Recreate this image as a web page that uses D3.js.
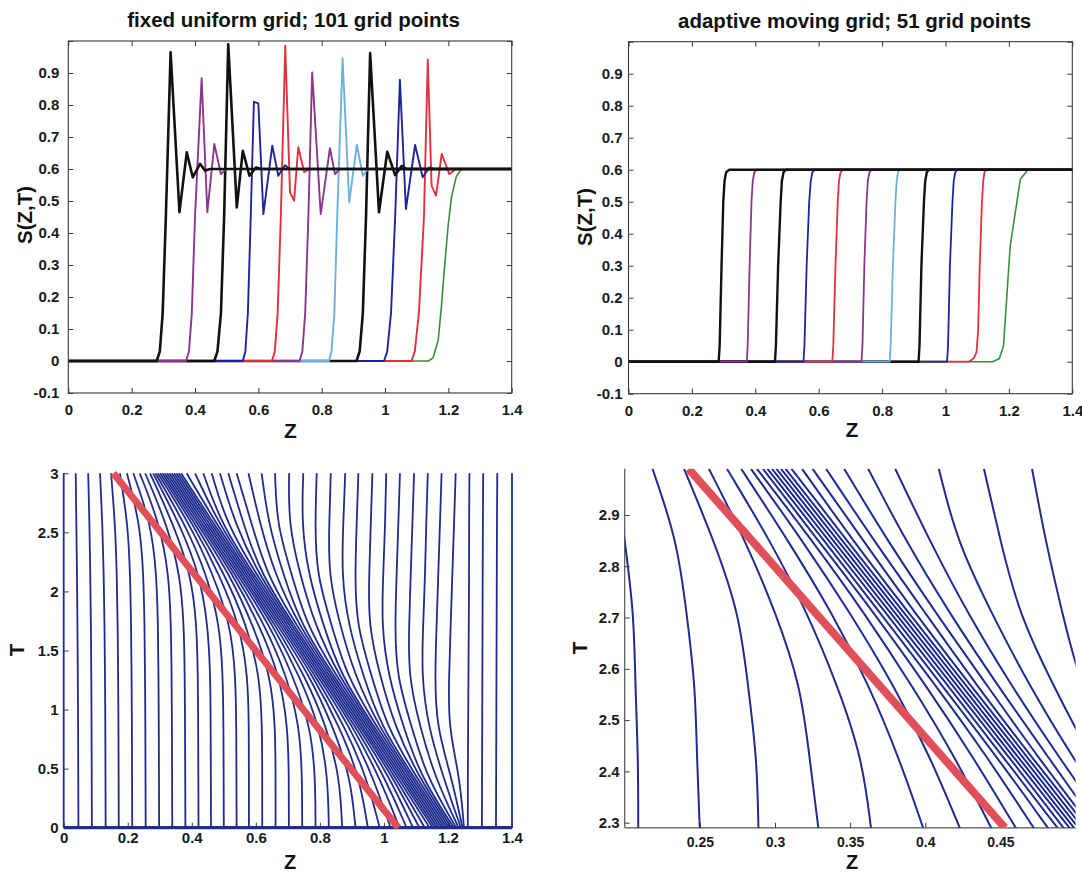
<!DOCTYPE html>
<html><head><meta charset="utf-8">
<script src="https://cdn.jsdelivr.net/npm/d3@7"></script>
<style>
body{margin:0;background:#fff}
svg text{font-family:"Liberation Sans",Arial,Helvetica,sans-serif}
</style>
</head><body>
<svg id="c" width="1082" height="875"></svg>
<script>
// ---------- tick labels ----------
const zTicks = [0,0.2,0.4,0.6,0.8,1,1.2,1.4];
const sTicks = [-0.1,0,0.1,0.2,0.3,0.4,0.5,0.6,0.7,0.8,0.9,1.0];
const sLabels = [-0.1,0,0.1,0.2,0.3,0.4,0.5,0.6,0.7,0.8,0.9];
const tTicksBL = [0,0.5,1,1.5,2,2.5,3];
const zTicksBR = [0.25,0.3,0.35,0.4,0.45];
const tTicksBR = [2.3,2.4,2.5,2.6,2.7,2.8,2.9];

// ---------- top-left: fixed uniform grid, S(Z,T) profiles [Z,S] ----------
const tlBlack1 = [[0,0],[0.279,0],[0.289,0.03],[0.298,0.15],[0.308,0.45],[0.323,0.965],[0.351,0.465],[0.374,0.652],[0.393,0.574],[0.416,0.616],[0.432,0.595],[0.448,0.6],[1.4,0.6]];
const tlPurple1 = [[0,0],[0.372,0],[0.381,0.03],[0.39,0.15],[0.4,0.45],[0.421,0.884],[0.439,0.465],[0.461,0.678],[0.482,0.584],[0.498,0.6],[1.4,0.6]];
const tlBlack2 = [[0,0],[0.461,0],[0.471,0.03],[0.482,0.15],[0.492,0.45],[0.505,0.99],[0.532,0.48],[0.551,0.657],[0.572,0.579],[0.593,0.605],[0.608,0.6],[1.4,0.6]];
const tlBlue1 = [[0,0],[0.551,0],[0.559,0.03],[0.567,0.15],[0.576,0.45],[0.586,0.81],[0.6,0.805],[0.616,0.459],[0.644,0.673],[0.663,0.579],[0.684,0.612],[0.7,0.6],[1.4,0.6]];
const tlRed1 = [[0,0],[0.643,0],[0.652,0.03],[0.661,0.15],[0.671,0.45],[0.685,0.985],[0.7,0.527],[0.713,0.501],[0.726,0.668],[0.745,0.59],[0.761,0.6],[1.4,0.6]];
const tlPurple2 = [[0,0],[0.73,0],[0.739,0.03],[0.748,0.15],[0.758,0.45],[0.77,0.902],[0.797,0.459],[0.826,0.665],[0.842,0.584],[0.858,0.6],[1.4,0.6]];
const tlLBlue = [[0,0],[0.823,0],[0.831,0.03],[0.84,0.15],[0.849,0.45],[0.866,0.946],[0.887,0.496],[0.911,0.675],[0.93,0.579],[0.946,0.6],[1.4,0.6]];
const tlBlack3 = [[0,0],[0.91,0],[0.92,0.03],[0.93,0.15],[0.94,0.45],[0.953,0.962],[0.981,0.465],[1.007,0.654],[1.032,0.581],[1.053,0.61],[1.068,0.6],[1.4,0.6]];
const tlBlue2 = [[0,0],[0.997,0],[1.007,0.03],[1.019,0.15],[1.032,0.45],[1.047,0.879],[1.066,0.475],[1.095,0.675],[1.119,0.574],[1.14,0.605],[1.155,0.6],[1.4,0.6]];
const tlRed2 = [[0,0],[1.084,0],[1.094,0.03],[1.107,0.15],[1.123,0.45],[1.135,0.942],[1.147,0.548],[1.161,0.517],[1.179,0.647],[1.203,0.584],[1.224,0.6],[1.4,0.6]];
const tlGreen = [[0,0],[1.137,0],[1.152,0.01],[1.168,0.066],[1.178,0.17],[1.188,0.295],[1.199,0.42],[1.21,0.513],[1.225,0.576],[1.241,0.6],[1.4,0.6]];

// ---------- top-right: adaptive moving grid, S(Z,T) profiles [Z,S] ----------
const trBlack1 = [[0,0],[0.2845,0],[0.2875,0.05],[0.2935,0.3],[0.299,0.5],[0.303,0.565],[0.308,0.592],[0.318,0.6],[1.4,0.6]];
const trPurple1 = [[0,0],[0.373,0],[0.376,0.05],[0.382,0.3],[0.388,0.5],[0.392,0.565],[0.397,0.592],[0.406,0.6],[1.4,0.6]];
const trBlack2 = [[0,0],[0.462,0],[0.465,0.05],[0.472,0.3],[0.48,0.5],[0.484,0.565],[0.489,0.592],[0.497,0.6],[1.4,0.6]];
const trBlue1 = [[0,0],[0.552,0],[0.555,0.05],[0.562,0.3],[0.57,0.5],[0.575,0.565],[0.58,0.592],[0.588,0.6],[1.4,0.6]];
const trRed1 = [[0,0],[0.643,0],[0.646,0.05],[0.653,0.3],[0.66,0.5],[0.664,0.565],[0.669,0.592],[0.677,0.6],[1.4,0.6]];
const trPurple2 = [[0,0],[0.735,0],[0.738,0.05],[0.744,0.3],[0.751,0.5],[0.755,0.565],[0.76,0.592],[0.768,0.6],[1.4,0.6]];
const trLBlue = [[0,0],[0.824,0],[0.827,0.05],[0.834,0.3],[0.842,0.5],[0.846,0.565],[0.85,0.592],[0.857,0.6],[1.4,0.6]];
const trBlack3 = [[0,0],[0.915,0],[0.918,0.05],[0.924,0.3],[0.932,0.5],[0.936,0.565],[0.941,0.592],[0.948,0.6],[1.4,0.6]];
const trBlue2 = [[0,0],[1.005,0],[1.008,0.05],[1.014,0.3],[1.022,0.5],[1.026,0.565],[1.031,0.592],[1.038,0.6],[1.4,0.6]];
const trRed2 = [[0,0],[1.075,0],[1.09,0.012],[1.098,0.03],[1.103,0.1],[1.108,0.3],[1.115,0.5],[1.119,0.565],[1.123,0.592],[1.13,0.6],[1.4,0.6]];
const trGreen = [[0,0],[1.149,0],[1.17,0.01],[1.183,0.05],[1.204,0.36],[1.236,0.57],[1.26,0.6],[1.4,0.6]];

// ---------- bottom-left: grid-point trajectories Z(T) ----------
const blT = [0,0.4296,0.858,1.2864,1.7148,2.1432,2.5716,3];
const blZ = [
[0,0,0,0,0,0,0,0],
[0.046,0.0455,0.045,0.044,0.043,0.0415,0.0395,0.0375],
[0.088,0.0875,0.087,0.0862,0.085,0.083,0.0805,0.0765],
[0.131,0.1305,0.13,0.129,0.1275,0.125,0.121,0.1135],
[0.172,0.1715,0.171,0.17,0.1685,0.166,0.1605,0.148],
[0.214,0.2135,0.213,0.212,0.2105,0.2075,0.2005,0.1755],
[0.256,0.2555,0.255,0.254,0.2525,0.249,0.2385,0.1975],
[0.298,0.2975,0.297,0.296,0.2945,0.29,0.273,0.2175],
[0.339,0.3385,0.338,0.337,0.335,0.3285,0.3,0.2375],
[0.38,0.3795,0.379,0.378,0.3755,0.364,0.322,0.2545],
[0.421,0.4205,0.42,0.419,0.4155,0.398,0.342,0.2695],
[0.46,0.4595,0.459,0.458,0.4505,0.4247,0.362,0.2791],
[0.5,0.4995,0.499,0.497,0.4875,0.4467,0.379,0.2864],
[0.54,0.5395,0.539,0.5368,0.5215,0.4667,0.394,0.2937],
[0.5784,0.5784,0.5782,0.5753,0.5495,0.4867,0.404,0.301],
[0.62,0.62,0.6195,0.6123,0.5715,0.5037,0.4113,0.3083],
[0.6616,0.6616,0.661,0.6463,0.5915,0.5187,0.4186,0.3156],
[0.7032,0.7032,0.7,0.6743,0.6115,0.5287,0.4259,0.3229],
[0.7448,0.7446,0.737,0.6963,0.6285,0.536,0.4332,0.3302],
[0.7864,0.786,0.771,0.7163,0.6435,0.5433,0.4405,0.3375],
[0.828,0.8249,0.799,0.7363,0.6535,0.5506,0.4478,0.3448],
[0.8696,0.8619,0.821,0.7533,0.6608,0.5579,0.4551,0.3521],
[0.9112,0.8959,0.841,0.7683,0.6681,0.5652,0.4624,0.3594],
[0.9497,0.9239,0.861,0.7783,0.6754,0.5725,0.4697,0.3667],
[0.9867,0.9459,0.878,0.7856,0.6827,0.5798,0.477,0.3841],
[1.0207,0.9659,0.893,0.7929,0.69,0.5871,0.4843,0.4101],
[1.0487,0.9859,0.903,0.8002,0.6973,0.5944,0.4916,0.4361],
[1.0707,1.0029,0.9103,0.8075,0.7046,0.6017,0.509,0.4621],
[1.0907,1.0179,0.9176,0.8148,0.7119,0.609,0.535,0.4881],
[1.1107,1.0279,0.9249,0.8221,0.7192,0.6163,0.561,0.5141],
[1.1277,1.0352,0.9322,0.8294,0.7265,0.6337,0.587,0.5401],
[1.1427,1.0425,0.9395,0.8367,0.7338,0.6597,0.613,0.5771],
[1.1527,1.0498,0.9468,0.844,0.7411,0.6857,0.639,0.6181],
[1.16,1.0571,0.9541,0.8513,0.7585,0.7117,0.665,0.6601],
[1.1673,1.0644,0.9614,0.8586,0.7845,0.7377,0.702,0.7041],
[1.1746,1.0717,0.9687,0.8659,0.8105,0.7637,0.743,0.7481],
[1.1819,1.079,0.976,0.8833,0.8365,0.7897,0.785,0.7901],
[1.1892,1.0863,0.9833,0.9093,0.8625,0.8267,0.829,0.8341],
[1.1965,1.0936,0.9906,0.9353,0.8885,0.8677,0.873,0.8791],
[1.2038,1.1009,1.008,0.9613,0.9145,0.9097,0.915,0.9201],
[1.2111,1.1082,1.034,0.9873,0.9515,0.9537,0.959,0.9641],
[1.2184,1.1155,1.06,1.0133,0.9925,0.9977,1.004,1.0071],
[1.2257,1.1329,1.086,1.0393,1.0345,1.0397,1.045,1.0501],
[1.233,1.1589,1.112,1.0763,1.0785,1.0837,1.089,1.0941],
[1.2403,1.1849,1.138,1.1173,1.1225,1.1287,1.132,1.1371],
[1.2455,1.2109,1.164,1.1593,1.1645,1.1697,1.175,1.1801],
[1.25,1.2369,1.201,1.2033,1.2085,1.2137,1.219,1.2241],
[1.262,1.262,1.263,1.264,1.265,1.266,1.266,1.267],
[1.306,1.3065,1.307,1.3075,1.308,1.3085,1.309,1.31],
[1.35,1.3505,1.351,1.3515,1.352,1.3525,1.353,1.354],
[1.4,1.4,1.4,1.4,1.4,1.4,1.4,1.4]
];
const blBaseZ = [0, 1.4];          // initial grid line at T = 0
const blRedZ = [1.045, 0.155];     // characteristic line
const blRedT = [0, 3];

// ---------- bottom-right: zoomed trajectories Z(T) ----------
const brT = [2.286,2.427,2.568,2.708,2.849,2.99];
const brZ = [
[0.209,0.209,0.207,0.2062,0.2,0.194],
[0.25,0.248,0.247,0.2412,0.235,0.2185],
[0.289,0.288,0.282,0.2762,0.2595,0.2395],
[0.329,0.323,0.317,0.3007,0.2805,0.256],
[0.364,0.358,0.3415,0.3217,0.297,0.268],
[0.399,0.3825,0.3625,0.3382,0.309,0.2775],
[0.4235,0.4035,0.379,0.3502,0.3185,0.284],
[0.4445,0.42,0.391,0.3597,0.325,0.288],
[0.461,0.432,0.4005,0.3662,0.329,0.292],
[0.473,0.4415,0.407,0.3702,0.333,0.295],
[0.4825,0.448,0.411,0.3742,0.336,0.298],
[0.489,0.452,0.415,0.3772,0.339,0.301],
[0.493,0.456,0.418,0.3802,0.342,0.304],
[0.497,0.459,0.421,0.3832,0.345,0.307],
[0.5,0.462,0.424,0.3862,0.348,0.311],
[0.503,0.465,0.427,0.3892,0.352,0.318],
[0.506,0.468,0.43,0.3932,0.359,0.325],
[0.509,0.471,0.434,0.4002,0.366,0.334],
[0.512,0.475,0.441,0.4072,0.375,0.346],
[0.516,0.482,0.448,0.4162,0.387,0.362],
[0.523,0.489,0.457,0.4282,0.403,0.38],
[0.53,0.498,0.469,0.4442,0.421,0.409],
[0.539,0.51,0.485,0.4622,0.45,0.439],
[0.551,0.526,0.503,0.4912,0.48,0.471]
];
const brRedZ = [0.453, 0.2425];
const brRedT = [2.29, 2.99];

// ---------- styling ----------
const cBlack="#111111", cPurple="#8b358b", cBlue="#1c249c", cRed="#e3303d", cLBlue="#6cb0dc", cGreen="#3d8c3d";
const cNavy="#1f2c8e", cRedThick="#e0505a", cAxis="#3a3a3a";
const FONT = '"Liberation Sans",Arial,Helvetica,sans-serif';

const svg = d3.select('#c');
const defs = svg.append('defs');

function styleAxis(sel, size){
  sel.attr('font-family', FONT).attr('font-size', size).attr('font-weight','bold');
  sel.selectAll('.tick line').attr('stroke', cAxis);
  sel.selectAll('.tick text').attr('fill', '#1a1a1a');
  sel.select('.domain').remove();
}
function clip(id, x0, y0, x1, y1){
  defs.append('clipPath').attr('id', id).append('rect')
    .attr('x', x0).attr('y', y0).attr('width', x1-x0).attr('height', y1-y0);
}
function label(txt, x, y, rot, size){
  const t = svg.append('text').text(txt).attr('font-family', FONT).attr('font-weight','bold')
    .attr('font-size', size).attr('text-anchor','middle').attr('fill','#111');
  if (rot) t.attr('transform', `translate(${x},${y}) rotate(-90)`); else t.attr('x', x).attr('y', y);
}

// ---------- top panels ----------
function topPanel(xr, yr, curves, title, titlePos, ylabPos, xlabPos, padLeft, padBottom, clipId){
  const x = d3.scaleLinear().domain([0,1.4]).range(xr);
  const y = d3.scaleLinear().domain([-0.1,1.0]).range(yr);
  clip(clipId, xr[0], yr[1], xr[1], yr[0]);
  const g = svg.append('g');
  g.append('g').attr('transform',`translate(0,${yr[0]})`)
    .call(d3.axisBottom(x).tickValues(zTicks).tickSize(-5).tickPadding(padBottom).tickFormat(d=>String(d)))
    .call(s=>styleAxis(s,15));
  g.append('g').attr('transform',`translate(0,${yr[1]})`)
    .call(d3.axisTop(x).tickValues(zTicks).tickSize(-5).tickFormat(''))
    .call(s=>styleAxis(s,15));
  g.append('g').attr('transform',`translate(${xr[0]},0)`)
    .call(d3.axisLeft(y).tickValues(sTicks).tickSize(-5).tickPadding(padLeft).tickFormat(d=>sLabels.includes(d)?String(d):''))
    .call(s=>styleAxis(s,15));
  g.append('g').attr('transform',`translate(${xr[1]},0)`)
    .call(d3.axisRight(y).tickValues(sTicks).tickSize(-5).tickFormat(''))
    .call(s=>styleAxis(s,15));
  const line = d3.line().x(d=>x(d[0])).y(d=>y(d[1]));
  const lg = g.append('g').attr('clip-path',`url(#${clipId})`);
  curves.forEach(c=>{
    lg.append('path').attr('d', line(c.pts)).attr('fill','none')
      .attr('stroke', c.color).attr('stroke-width', c.w)
      .attr('stroke-linejoin','round').attr('stroke-linecap','round');
  });
  g.append('rect').attr('x',xr[0]).attr('y',yr[1]).attr('width',xr[1]-xr[0]).attr('height',yr[0]-yr[1])
    .attr('fill','none').attr('stroke',cAxis).attr('stroke-width',1.1);
  label(title, titlePos[0], titlePos[1], false, 20.5);
  label('S(Z,T)', ylabPos[0], ylabPos[1], true, 20.5);
  label('Z', xlabPos[0], xlabPos[1], false, 21);
}

// drawing order: last-listed curve is on top
topPanel([68.3,511.7],[393,41],[
  {pts:tlGreen,color:cGreen,w:1.6},
  {pts:tlRed2,color:cRed,w:1.9},
  {pts:tlBlue2,color:cBlue,w:1.9},
  {pts:tlBlack3,color:cBlack,w:2.6},
  {pts:tlLBlue,color:cLBlue,w:1.9},
  {pts:tlPurple2,color:cPurple,w:1.9},
  {pts:tlRed1,color:cRed,w:1.9},
  {pts:tlBlue1,color:cBlue,w:1.9},
  {pts:tlBlack2,color:cBlack,w:2.6},
  {pts:tlPurple1,color:cPurple,w:1.9},
  {pts:tlBlack1,color:cBlack,w:2.6}
], 'fixed uniform grid; 101 grid points', [293.5,26.5], [32,215], [290.5,438], 9, 11, 'clipTL');

topPanel([628.5,1072.3],[393.7,41.7],[
  {pts:trGreen,color:cGreen,w:1.6},
  {pts:trRed2,color:cRed,w:1.8},
  {pts:trBlue2,color:cBlue,w:1.8},
  {pts:trBlack3,color:cBlack,w:2.4},
  {pts:trLBlue,color:cLBlue,w:1.8},
  {pts:trPurple2,color:cPurple,w:1.8},
  {pts:trRed1,color:cRed,w:1.8},
  {pts:trBlue1,color:cBlue,w:1.8},
  {pts:trBlack2,color:cBlack,w:2.4},
  {pts:trPurple1,color:cPurple,w:1.8},
  {pts:trBlack1,color:cBlack,w:2.4}
], 'adaptive moving grid; 51 grid points', [854.6,28], [592,217], [852,437], 6, 12, 'clipTR');

// ---------- bottom-left ----------
(function(){
  const x = d3.scaleLinear().domain([0,1.4]).range([63.7,512]);
  const y = d3.scaleLinear().domain([0,3]).range([827.7,473.3]);
  const g = svg.append('g');
  g.append('g').attr('transform','translate(0,827.7)')
    .call(d3.axisBottom(x).tickValues(zTicks).tickSize(-5).tickPadding(5).tickFormat(d=>String(d)))
    .call(s=>styleAxis(s,15));
  g.append('g').attr('transform','translate(63.7,0)')
    .call(d3.axisLeft(y).tickValues(tTicksBL).tickSize(-5).tickPadding(5).tickFormat(d=>String(d)))
    .call(s=>styleAxis(s,15));
  const line = d3.line().curve(d3.curveBasis).x(d=>x(d[0])).y(d=>y(d[1]));
  blZ.forEach(row=>{
    g.append('path').attr('d', line(row.map((z,j)=>[z, blT[j]]))).attr('fill','none')
      .attr('stroke', cNavy).attr('stroke-width', 1.8);
  });
  g.append('path').attr('d', d3.line().x(d=>x(d[0])).y(d=>y(d[1]))(blBaseZ.map(z=>[z,0])))
    .attr('stroke', cNavy).attr('stroke-width', 3.2).attr('fill','none');
  g.append('path').attr('d', d3.line().x(d=>x(d[0])).y(d=>y(d[1]))(blRedZ.map((z,j)=>[z,blRedT[j]])))
    .attr('stroke', cRedThick).attr('stroke-width', 7).attr('fill','none').attr('stroke-linecap','butt');
  label('T', 24, 650, true, 20.5);
  label('Z', 290, 869, false, 20);
})();

// ---------- bottom-right ----------
(function(){
  const xr=[624.7,1075.6], yr=[827.8,468.8];
  const x = d3.scaleLinear().domain([0.2,0.5]).range(xr);
  const y = d3.scaleLinear().domain([2.29,2.99]).range(yr);
  clip('clipBR', xr[0], yr[1], xr[1], yr[0]);
  const g = svg.append('g');
  g.append('line').attr('x1',xr[0]).attr('x2',xr[1]).attr('y1',yr[0]).attr('y2',yr[0]).attr('stroke','#555').attr('stroke-width',1.2);
  g.append('line').attr('x1',xr[0]).attr('x2',xr[0]).attr('y1',yr[0]).attr('y2',yr[1]).attr('stroke','#555').attr('stroke-width',1.2);
  g.append('g').attr('transform',`translate(0,${yr[0]})`)
    .call(d3.axisBottom(x).tickValues(zTicksBR).tickSize(-5).tickPadding(9).tickFormat(d=>String(d)))
    .call(s=>styleAxis(s,14));
  g.append('g').attr('transform',`translate(${xr[0]},0)`)
    .call(d3.axisLeft(y).tickValues(tTicksBR).tickSize(-5).tickPadding(5).tickFormat(d=>String(d)))
    .call(s=>styleAxis(s,15));
  const lg = g.append('g').attr('clip-path','url(#clipBR)');
  const line = d3.line().curve(d3.curveBasis).x(d=>x(d[0])).y(d=>y(d[1]));
  brZ.forEach(row=>{
    lg.append('path').attr('d', line(row.map((z,j)=>[z, brT[j]]))).attr('fill','none')
      .attr('stroke', cNavy).attr('stroke-width', 2);
  });
  lg.append('path').attr('d', d3.line().x(d=>x(d[0])).y(d=>y(d[1]))(brRedZ.map((z,j)=>[z,brRedT[j]])))
    .attr('stroke', cRedThick).attr('stroke-width', 8).attr('fill','none');
  label('T', 587, 648, true, 20.5);
  label('Z', 852, 869, false, 20);
})();
</script>
</body></html>
